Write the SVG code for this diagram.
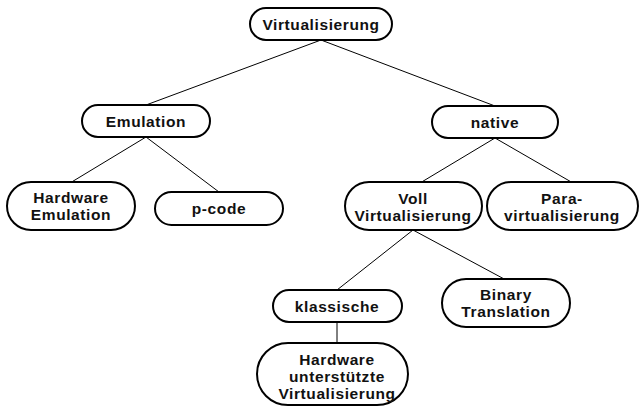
<svg xmlns="http://www.w3.org/2000/svg" width="642" height="407" viewBox="0 0 642 407">
<style>
.n rect{fill:#fff;stroke:#000;stroke-width:2}
.n text{font-family:"Liberation Sans",Arial,sans-serif;font-weight:bold;font-size:15.5px;letter-spacing:0.6px;text-anchor:middle;fill:#111}
#edges line{stroke:#000;stroke-width:1}
</style>
<rect width="642" height="407" fill="#fff"/>
<g id="edges">
<line x1="321" y1="40" x2="146" y2="105"/>
<line x1="321" y1="40" x2="495" y2="106"/>
<line x1="146" y1="137" x2="70" y2="183"/>
<line x1="146" y1="137" x2="219" y2="192"/>
<line x1="495" y1="138" x2="420" y2="183"/>
<line x1="495" y1="138" x2="573" y2="183"/>
<line x1="413" y1="230" x2="337" y2="290"/>
<line x1="413" y1="230" x2="506" y2="280"/>
<line x1="337" y1="322" x2="337" y2="343"/>
</g>
<g id="virtualisierung" class="n"><rect x="250" y="8" width="142" height="32" rx="16"/><text x="321" y="30">Virtualisierung</text></g>
<g id="emulation" class="n"><rect x="82" y="105" width="128" height="32" rx="16"/><text x="146" y="127">Emulation</text></g>
<g id="native" class="n"><rect x="432" y="106" width="126" height="32" rx="16"/><text x="495" y="128">native</text></g>
<g id="hw-emulation" class="n"><rect x="7" y="182" width="128" height="48" rx="24"/><text x="71" y="203">Hardware</text><text x="71" y="220">Emulation</text></g>
<g id="p-code" class="n"><rect x="155" y="192" width="128" height="33" rx="16.5"/><text x="219" y="214">p-code</text></g>
<g id="voll" class="n"><rect x="345" y="182" width="137" height="48" rx="24"/><text x="413" y="204">Voll</text><text x="413" y="221">Virtualisierung</text></g>
<g id="para" class="n"><rect x="487" y="182" width="151" height="48" rx="24"/><text x="562" y="204">Para-</text><text x="562" y="221">virtualisierung</text></g>
<g id="klassische" class="n"><rect x="273" y="290" width="129" height="32" rx="16"/><text x="337" y="312">klassische</text></g>
<g id="binary" class="n"><rect x="442" y="279" width="128" height="48" rx="24"/><text x="506" y="300">Binary</text><text x="506" y="317">Translation</text></g>
<g id="hw-unterstuetzt" class="n"><rect x="257" y="343" width="151" height="62" rx="31"/><text x="337" y="365">Hardware</text><text x="337" y="382">unterstützte</text><text x="337" y="399">Virtualisierung</text></g>
</svg>
